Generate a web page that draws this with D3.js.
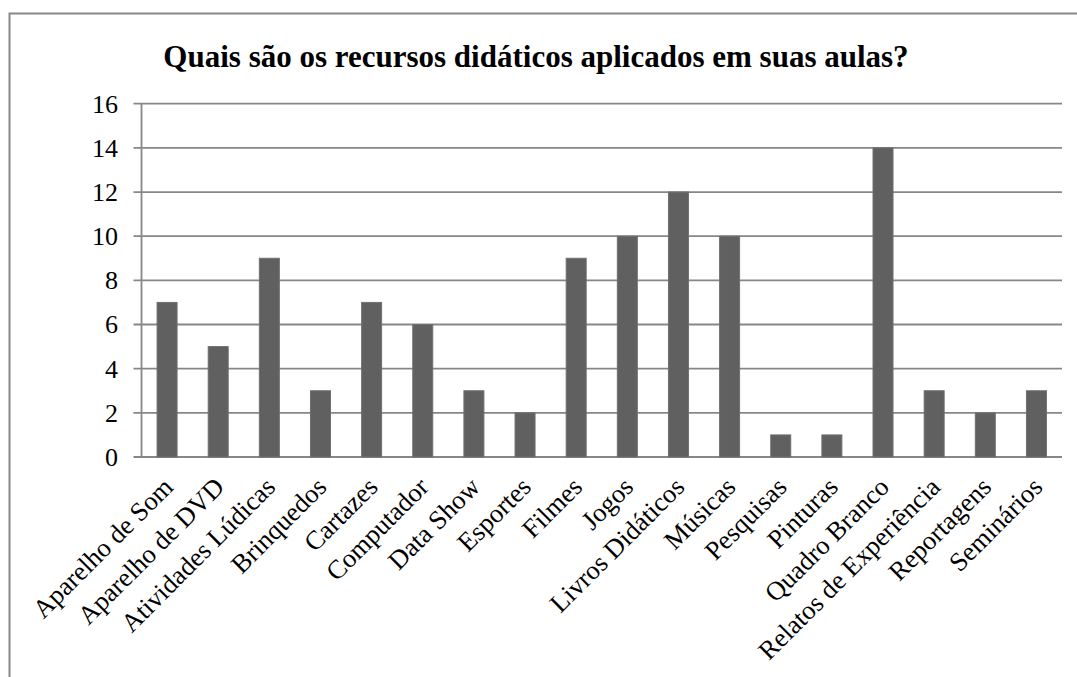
<!DOCTYPE html>
<html><head><meta charset="utf-8">
<script src="https://cdn.jsdelivr.net/npm/d3@7"></script>
<style>body{margin:0;background:#fff}svg{display:block}</style>
</head><body>
<svg id="c" width="1077" height="677"></svg>
<script>
const title = "Quais são os recursos didáticos aplicados em suas aulas?";
const categories = ["Aparelho de Som","Aparelho de DVD","Atividades Lúdicas","Brinquedos","Cartazes","Computador","Data Show","Esportes","Filmes","Jogos","Livros Didáticos","Músicas","Pesquisas","Pinturas","Quadro Branco","Relatos de Experiência","Reportagens","Seminários"];
const values = [7,5,9,3,7,6,3,2,9,10,12,10,1,1,14,3,2,3];
const yTicks = [0,2,4,6,8,10,12,14,16];

const svg = d3.select("#c");
const font = "'Liberation Serif','Times New Roman',serif";
// chart border
svg.append("rect").attr("x",9.5).attr("y",13.5).attr("width",1100).attr("height",700)
  .attr("fill","none").attr("stroke","#888").attr("stroke-width",2);

const L=141.5, R=1062, T=103.7, B=457;
const x = d3.scaleBand().domain(categories).range([L,R]).padding(0);
const y = d3.scaleLinear().domain([0,16]).range([B,T]);

// gridlines
svg.append("g").selectAll("line").data(yTicks).join("line")
  .attr("x1",L-8).attr("x2",R).attr("y1",d=>y(d)).attr("y2",d=>y(d))
  .attr("stroke","#878787").attr("stroke-width",1.8);
// y axis line
svg.append("line").attr("x1",L).attr("x2",L).attr("y1",T).attr("y2",B)
  .attr("stroke","#878787").attr("stroke-width",1.8);

// y labels
svg.append("g").selectAll("text").data(yTicks).join("text")
  .attr("x",118).attr("y",d=>y(d)).attr("dy","0.34em").attr("text-anchor","end")
  .attr("font-family",font).attr("font-size",26).attr("fill","#000").text(d=>d);

// bars
const bw = 20;
svg.append("g").selectAll("rect").data(values).join("rect")
  .attr("x",(d,i)=>x(categories[i])+x.bandwidth()/2-bw/2)
  .attr("y",d=>y(d)).attr("width",bw).attr("height",d=>y(0)-y(d))
  .attr("fill","#606060").attr("stroke","#707070").attr("stroke-width",1);

// x labels
svg.append("g").selectAll("text").data(categories).join("text")
  .attr("transform",d=>`translate(${x(d)+x.bandwidth()/2+1},${B+25}) rotate(-45)`)
  .attr("text-anchor","end").attr("dy","0.35em")
  .attr("font-family",font).attr("font-size",26.5).attr("fill","#000").text(d=>d);

// title
svg.append("text").attr("x",536).attr("y",67).attr("text-anchor","middle")
  .attr("font-family",font).attr("font-size",31).attr("font-weight","bold").attr("fill","#000").text(title);
</script>
</body></html>
